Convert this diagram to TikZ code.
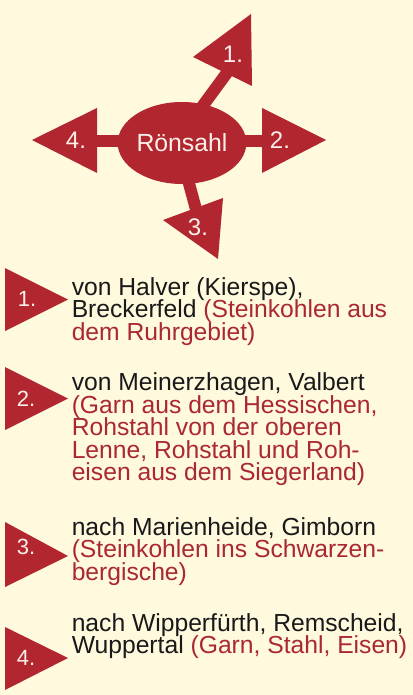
\documentclass[tikz,border=0pt]{standalone}
\usepackage{fontspec}
\setmainfont{Liberation Sans}
\usetikzlibrary{shapes.geometric}
\definecolor{bg}{RGB}{255,249,222}
\definecolor{rd}{RGB}{178,38,48}
\definecolor{tr}{RGB}{170,40,50}
\definecolor{lb}{RGB}{252,240,232}
\definecolor{tk}{RGB}{25,25,25}
\begin{document}
\begin{tikzpicture}[x=0.75pt,y=-0.75pt,
  redfill/.style={fill=rd,draw=none},
  shaft/.style={draw=rd,line width=9pt},
  biglabel/.style={text=lb,font=\fontsize{18}{20}\selectfont,inner sep=0pt},
  smalllabel/.style={text=lb,font=\fontsize{16.5}{18}\selectfont,inner sep=0pt},
  txt/.style={anchor=base west,inner sep=0pt,text=tk,font=\fontsize{18.5}{22}\selectfont},
  rtxt/.style={txt,text=tr}]
\useasboundingbox[fill=bg] (0,0) rectangle (413,695);

% shafts
\coordinate (s1) at (196,115); \coordinate (e1) at (229,70);
\coordinate (s2) at (200,141); \coordinate (e2) at (270,141);
\coordinate (s3) at (184,165); \coordinate (e3) at (197,213);
\coordinate (s4) at (165,141); \coordinate (e4) at (90,141);
\draw[shaft] (s1) -- (e1);
\draw[shaft] (s2) -- (e2);
\draw[shaft] (s3) -- (e3);
\draw[shaft] (s4) -- (e4);

% arrow heads
\fill[redfill] (251,14) -- (193,57) -- (252,86) -- cycle;
\fill[redfill] (262,108) -- (262,173) -- (326,140) -- cycle;
\fill[redfill] (163,220) -- (223,198) -- (218,259) -- cycle;
\fill[redfill] (97,108) -- (97,173) -- (32,140) -- cycle;

% centre
\node[ellipse,fill=rd,minimum width=82.5pt,minimum height=61.5pt,inner sep=0pt,
  text=lb,font=\fontsize{18.6}{20}\selectfont] (ron) at (182,143) {Rönsahl};

\node[biglabel] (h1) at (233,54) {1.};
\node[biglabel] (h2) at (280,140) {2.};
\node[biglabel] (h3) at (198,227) {3.};
\node[biglabel] (h4) at (76,140) {4.};

% list markers
\fill[redfill] (5,268) -- (5,331) -- (68,299.5) -- cycle;
\fill[redfill] (5,367) -- (5,430) -- (68,398.5) -- cycle;
\fill[redfill] (5,522) -- (5,587) -- (68,556) -- cycle;
\fill[redfill] (5,627) -- (5,690) -- (68,658) -- cycle;
\node[smalllabel] (m1) at (27,299) {1.};
\node[smalllabel] (m2) at (26,399) {2.};
\node[smalllabel] (m3) at (26,547) {3.};
\node[smalllabel] (m4) at (26,658) {4.};

% texts
\node[txt] (a1) at (71.5,295) {von Halver (Kierspe),};
\node[txt] (a2) at (71.5,317.5) {Breckerfeld \textcolor{tr}{(Steinkohlen aus}};
\node[rtxt] (a3) at (71.5,340) {dem Ruhrgebiet)};

\node[txt] (b1) at (71.5,390.5) {von Meinerzhagen, Valbert};
\node[rtxt] (b2) at (71.5,413) {(Garn aus dem Hessischen,};
\node[rtxt] (b3) at (71.5,435.5) {Rohstahl von der oberen};
\node[rtxt] (b4) at (71.5,458) {Lenne, Rohstahl und Roh-};
\node[rtxt] (b5) at (71.5,480.5) {eisen aus dem Siegerland)};

\node[txt] (c1) at (71.5,535) {nach Marienheide, Gimborn};
\node[rtxt] (c2) at (71.5,557.5) {(Steinkohlen ins Schwarzen-};
\node[rtxt] (c3) at (71.5,580) {bergische)};

\node[txt] (d1) at (71.5,631) {nach Wipperfürth, Remscheid,};
\node[txt] (d2) at (71.5,653.5) {Wuppertal \textcolor{tr}{(Garn, Stahl, Eisen)}};
\end{tikzpicture}
\end{document}
